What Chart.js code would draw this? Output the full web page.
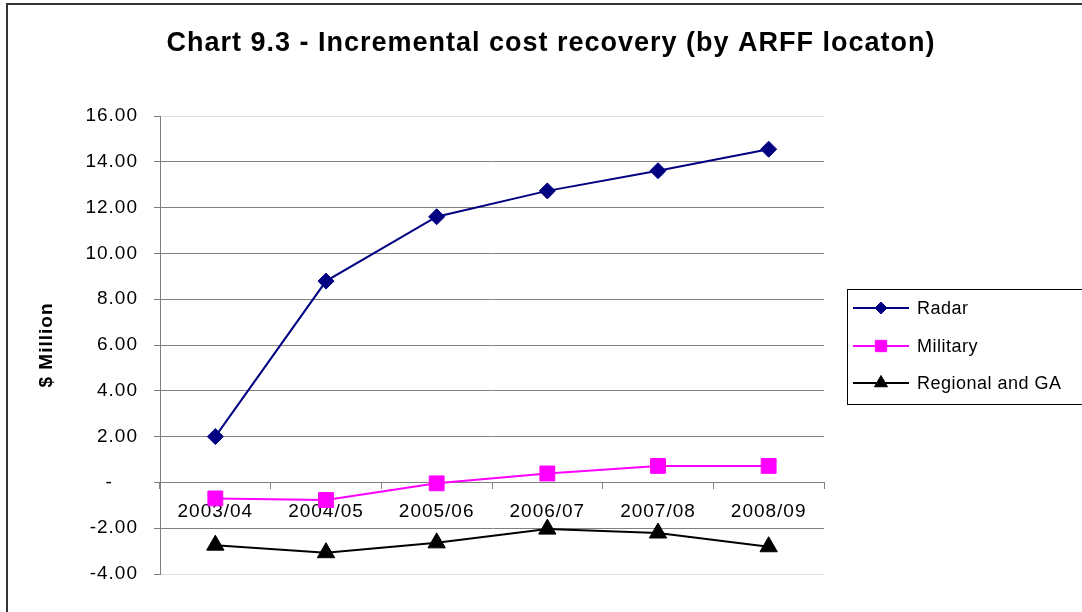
<!DOCTYPE html>
<html>
<head>
<meta charset="utf-8">
<script src="https://cdn.jsdelivr.net/npm/chart.js@4/dist/chart.umd.min.js"></script>
<style>
  html, body { margin: 0; padding: 0; background: #fff; }
  #wrap { width: 1082px; height: 612px; position: relative; }
</style>
</head>
<body>
<div id="wrap"><canvas id="c" width="1082" height="612"></canvas></div>
<script>
// ---- data ----
const categories = ['2003/04', '2004/05', '2005/06', '2006/07', '2007/08', '2008/09'];
const radar = [2.00, 8.79, 11.60, 12.73, 13.61, 14.55];
const military = [-0.70, -0.77, -0.04, 0.39, 0.72, 0.72];
const regional = [-2.74, -3.07, -2.64, -2.04, -2.21, -2.81];
const seriesNames = ['Radar', 'Military', 'Regional and GA'];
const titleText = 'Chart 9.3 - Incremental cost recovery (by ARFF locaton)';
const yTitle = '$ Million';
const yMin = -4, yMax = 16, yStep = 2;

const FONT = "'Liberation Sans', Arial, sans-serif";

const framePlugin = {
  id: 'frame',
  beforeDraw(chart) {
    const ctx = chart.ctx;
    ctx.save();
    ctx.fillStyle = '#fff';
    ctx.fillRect(0, 0, chart.width, chart.height);
    ctx.strokeStyle = '#333';
    ctx.lineWidth = 2;
    ctx.strokeRect(7, 4, 1200, 700);
    ctx.restore();
    ctx.letterSpacing = '1px';
  },
  afterDraw(chart) {
    const ctx = chart.ctx;
    ctx.save();
    // title
    ctx.letterSpacing = '1px';
    ctx.font = 'bold 27px ' + FONT;
    ctx.fillStyle = '#000';
    ctx.textAlign = 'center';
    ctx.textBaseline = 'alphabetic';
    ctx.fillText(titleText, 551, 51);
    // legend
    ctx.letterSpacing = '0.5px';
    ctx.strokeStyle = '#000';
    ctx.lineWidth = 1;
    ctx.strokeRect(847.5, 289.5, 240, 115);
    const rows = [308, 346, 383];
    chart.data.datasets.forEach((ds, i) => {
      const y = rows[i];
      ctx.strokeStyle = ds.borderColor;
      ctx.lineWidth = 2;
      ctx.beginPath();
      ctx.moveTo(853, y);
      ctx.lineTo(909, y);
      ctx.stroke();
      ctx.fillStyle = ds.pointBackgroundColor;
      ctx.strokeStyle = ds.pointBorderColor;
      ctx.lineWidth = 1;
      const r = ds.legendRadius;
      if (Chart.helpers && Chart.helpers.drawPoint) {
        Chart.helpers.drawPoint(ctx, {pointStyle: ds.pointStyle, radius: r, borderWidth: 1, rotation: 0}, 881, y);
      }
      ctx.fillStyle = '#000';
      ctx.font = '18px ' + FONT;
      ctx.textAlign = 'left';
      ctx.textBaseline = 'middle';
      ctx.fillText(ds.label, 917, y + 1);
    });
    ctx.restore();
  }
};

function mk(label, data, color, style, radius, legendRadius) {
  return {
    label, data,
    borderColor: color, backgroundColor: color,
    pointBackgroundColor: color, pointBorderColor: color,
    borderWidth: 2, pointStyle: style, pointRadius: radius,
    pointBorderWidth: 1, pointHoverRadius: radius,
    legendRadius,
    tension: 0, fill: false
  };
}

new Chart(document.getElementById('c'), {
  type: 'line',
  data: {
    labels: categories,
    datasets: [
      mk(seriesNames[0], radar, '#000080', 'rectRot', 8, 6),
      mk(seriesNames[1], military, '#FF00FF', 'rect', 10.5, 8),
      mk(seriesNames[2], regional, '#000000', 'triangle', 10, 7.5)
    ]
  },
  plugins: [framePlugin],
  options: {
    responsive: false,
    animation: false,
    devicePixelRatio: 1,
    layout: { padding: { left: 0, right: 258, top: 116, bottom: 38 } },
    plugins: { legend: { display: false }, title: { display: false }, tooltip: { enabled: false } },
    scales: {
      x: {
        type: 'category',
        position: { y: 0 },
        offset: true,
        grid: { display: true, offset: true, drawOnChartArea: false, drawTicks: true, tickLength: 6, color: '#808080', lineWidth: 1 },
        border: { display: true, color: '#808080', width: 1 },
        ticks: { color: '#000', font: { family: FONT, size: 19 }, padding: 12, maxRotation: 0, autoSkip: false }
      },
      y: {
        min: yMin, max: yMax,
        afterFit(scale) { scale.width = 160; },
        grid: {
          color: (c) => (c.tick && (c.tick.value === yMax || c.tick.value === yMin)) ? '#e0e0e0' : '#808080',
          tickColor: '#808080',
          lineWidth: 1, tickLength: 6, drawTicks: true
        },
        border: { display: true, color: '#808080', width: 1 },
        ticks: {
          stepSize: yStep,
          color: '#000',
          font: { family: FONT, size: 19 },
          padding: 16,
          callback: (v) => v === 0 ? '-    ' : Number(v).toFixed(2)
        },
        title: {
          display: true, text: yTitle, color: '#000',
          font: { family: FONT, size: 19, weight: 'bold' },
          padding: { top: 35, bottom: 0 }
        }
      }
    }
  }
});
</script>
</body>
</html>
